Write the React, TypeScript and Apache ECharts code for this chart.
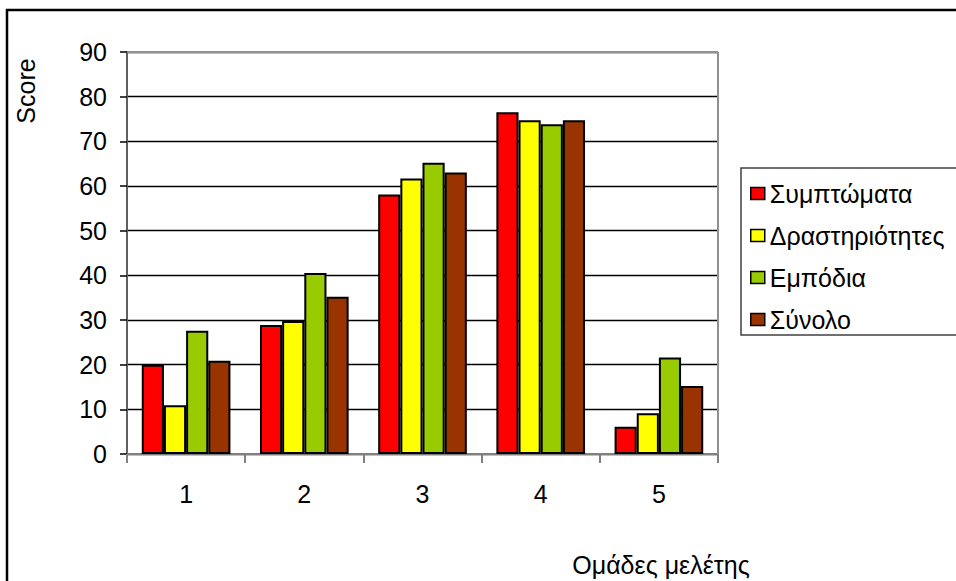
import React, { useEffect, useRef } from "react";
import * as echarts from "echarts";

const categories = ["1", "2", "3", "4", "5"];
const seriesNames = ["Συμπτώματα", "Δραστηριότητες", "Εμπόδια", "Σύνολο"];
const symptoms = [20.0, 28.9, 58.1, 76.5, 6.1];
const activities = [10.9, 29.8, 61.7, 74.7, 9.1];
const barriers = [27.6, 40.5, 65.2, 73.8, 21.6];
const total = [20.9, 35.2, 63.0, 74.7, 15.2];
const colors = ["#FF0000", "#FFFF00", "#99CC00", "#993300"];
const yTicks = { min: 0, max: 90, interval: 10 };

export default function App() {
  const ref = useRef<HTMLDivElement>(null);

  useEffect(() => {
    if (!ref.current) return;
    const chart = echarts.init(ref.current, null, { renderer: "svg" });
    const font = "'Liberation Sans', Arial, sans-serif";
    const values = [symptoms, activities, barriers, total];

    chart.setOption({
      animation: false,
      backgroundColor: "#ffffff",
      textStyle: { fontFamily: font },
      grid: { left: 127, top: 52, right: 238, bottom: 127, containLabel: false },
      legend: {
        orient: "vertical",
        left: 745,
        top: 176,
        itemWidth: 14,
        itemHeight: 12,
        itemGap: 17,
        icon: "rect",
        data: seriesNames,
        textStyle: { fontFamily: font, fontSize: 25, color: "#000", lineHeight: 25 },
        itemStyle: { borderColor: "#000", borderWidth: 1.5 },
      },
      xAxis: {
        type: "category",
        data: categories,
        axisLine: { lineStyle: { color: "#808080", width: 2 } },
        axisTick: { show: true, length: 9, lineStyle: { color: "#808080", width: 2 } },
        axisLabel: { fontSize: 25, color: "#000", margin: 27, fontFamily: font },
      },
      yAxis: {
        type: "value",
        min: yTicks.min,
        max: yTicks.max,
        interval: yTicks.interval,
        axisLine: { show: true, lineStyle: { color: "#606060", width: 2 } },
        axisTick: { show: true, length: 7, lineStyle: { color: "#000", width: 1.5 } },
        axisLabel: { fontSize: 25, color: "#000", margin: 20, fontFamily: font },
        splitLine: { show: true, lineStyle: { color: "#000", width: 1.3 } },
      },
      series: seriesNames.map((name, i) => ({
        name,
        type: "bar",
        data: values[i],
        barGap: "0%",
        barCategoryGap: "25%",
        itemStyle: { color: colors[i], borderColor: "#000", borderWidth: 2 },
      })),
      graphic: [
        {
          type: "rect",
          shape: { x: 7, y: 10, width: 1200, height: 1200 },
          style: { fill: "none", stroke: "#000", lineWidth: 2.5 },
          silent: true,
          z: 100,
        },
        {
          type: "line",
          shape: { x1: 127, y1: 52, x2: 718, y2: 52 },
          style: { stroke: "#909090", lineWidth: 2 },
          z: 50,
        },
        {
          type: "line",
          shape: { x1: 718, y1: 52, x2: 718, y2: 454 },
          style: { stroke: "#909090", lineWidth: 2 },
          z: 50,
        },
        {
          type: "rect",
          shape: { x: 741, y: 168, width: 400, height: 167 },
          style: { fill: "none", stroke: "#404040", lineWidth: 1.5 },
          z: 50,
        },
        {
          type: "text",
          x: 26,
          y: 91,
          rotation: Math.PI / 2,
          style: {
            text: "Score",
            fontSize: 25,
            fontFamily: font,
            fill: "#000",
            align: "center",
            verticalAlign: "middle",
          },
        },
        {
          type: "text",
          x: 661,
          y: 565,
          style: {
            text: "Ομάδες μελέτης",
            fontSize: 25,
            fontFamily: font,
            fill: "#000",
            align: "center",
            verticalAlign: "middle",
          },
        },
      ],
    });

    return () => chart.dispose();
  }, []);

  return (
    <div
      ref={ref}
      style={{ position: "absolute", left: 0, top: 0, width: 956, height: 581 }}
    />
  );
}
